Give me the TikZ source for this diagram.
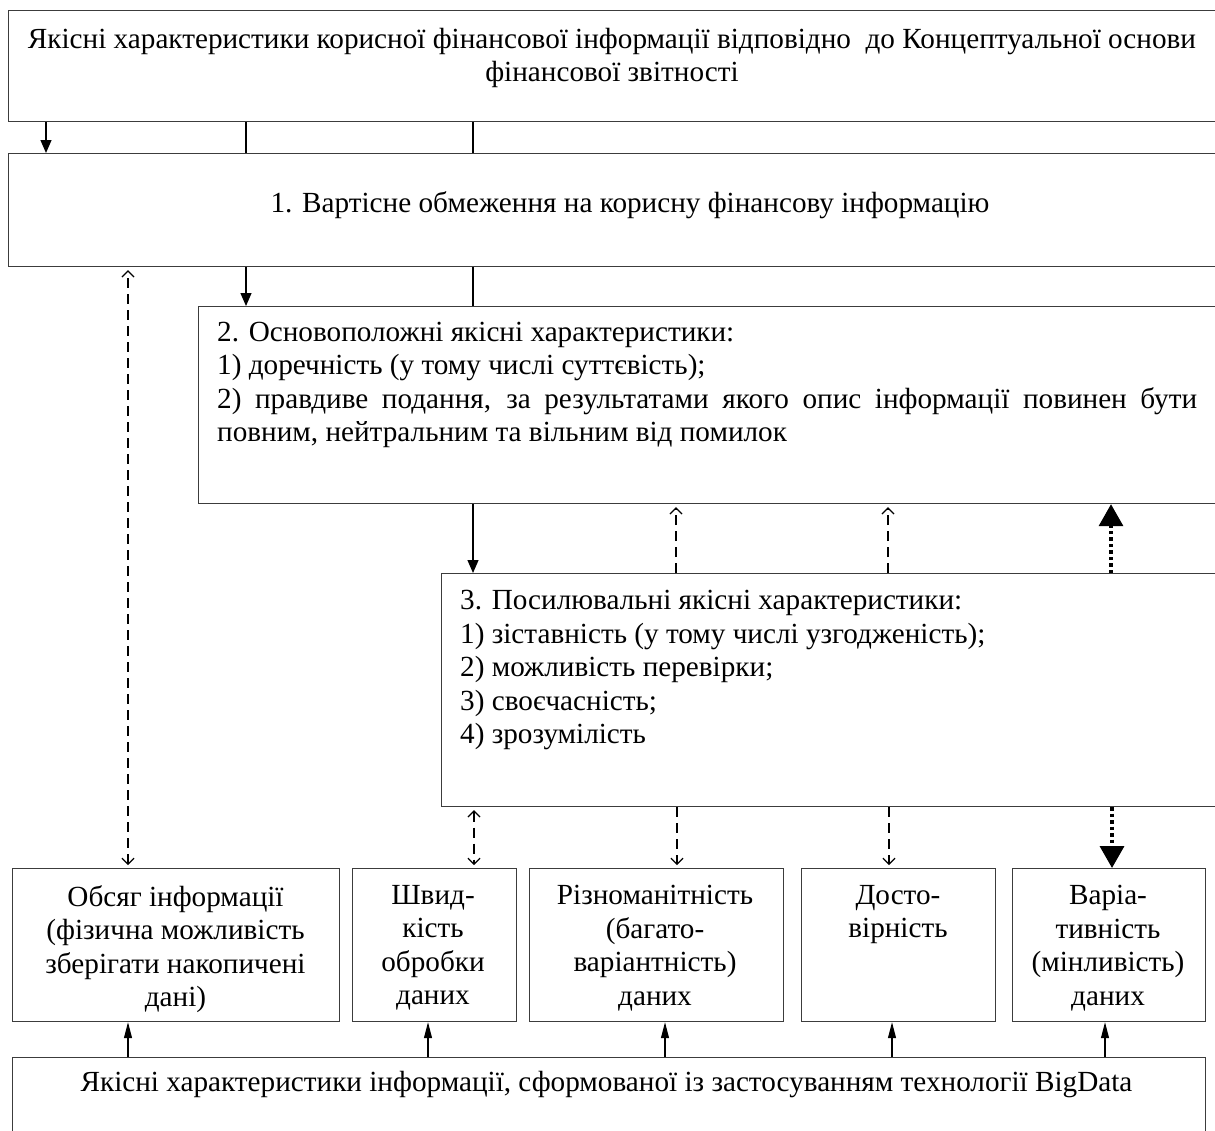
\documentclass[tikz,border=0pt]{standalone}
\usepackage{fontspec}
\setmainfont{Liberation Serif}
\usetikzlibrary{arrows.meta}
\definecolor{boxc}{HTML}{3C3C3C}
\begin{document}
\begin{tikzpicture}[x=1pt,y=-1pt,
  box/.style={draw=boxc, line width=1.2pt, rectangle, inner sep=0pt, anchor=north west},
  txt/.style={inner sep=0pt, font=\fontsize{29.2}{33.5}\selectfont, execute at begin node={\rule{0pt}{28pt}}},
  solidarr/.style={draw=black, line width=1.2pt, -{Triangle[width=11pt,length=13pt]}},
  plainline/.style={draw=black, line width=1.2pt},
  dasharr/.style={draw=black, line width=1.2pt, dash pattern=on 10pt off 6pt, -{Straight Barb[length=6pt,width=12pt,line width=1.2pt]}, shorten >=3pt},
  dashboth/.style={draw=black, line width=1.2pt, dash pattern=on 10pt off 6pt, {Straight Barb[length=6pt,width=12pt,line width=1.2pt]}-{Straight Barb[length=6pt,width=12pt,line width=1.2pt]}, shorten >=3pt, shorten <=3pt},
  dotarr/.style={draw=black, line width=3.5pt, dash pattern=on 3.5pt off 3pt, -{Triangle[width=24pt,length=22pt]}},
  uparr/.style={draw=black, line width=1.1pt, -{Triangle[width=8pt,length=16pt]}}
]
\useasboundingbox (0,0) rectangle (1215,1130);
\clip (0,0) rectangle (1215,1130);

% boxes
\node[box, minimum width=1217pt, minimum height=111pt] (b0) at (8,10) {};
\node[box, minimum width=1217pt, minimum height=113pt] (b1) at (8,153) {};
\node[box, minimum width=1027pt, minimum height=197pt] (b2) at (198,306) {};
\node[box, minimum width=784pt, minimum height=233pt] (b3) at (441,573) {};
\node[box, minimum width=327pt, minimum height=153pt] (o1) at (12,868) {};
\node[box, minimum width=164pt, minimum height=153pt] (o2) at (352,868) {};
\node[box, minimum width=254pt, minimum height=153pt] (o3) at (529,868) {};
\node[box, minimum width=194pt, minimum height=153pt] (o4) at (801,868) {};
\node[box, minimum width=193pt, minimum height=153pt] (o5) at (1012,868) {};
\node[box, minimum width=1193pt, minimum height=100pt] (bb) at (12,1057) {};

% texts
\node[txt, anchor=north, align=center] (t0) at (612,28) {Якісні характеристики корисної фінансової інформації відповідно\ \ до Концептуальної основи\\фінансової звітності};
\node[txt, anchor=base] (t1) at (630,212) {1. Вартісне обмеження на корисну фінансову інформацію};
\node[txt, anchor=north west, text width=980pt, align=justify] (t2) at (217,313) {2. Основоположні якісні характеристики:\\1) доречність (у тому числі суттєвість);\\2) правдиве подання, за результатами якого опис інформації повинен бути\linebreak повним, нейтральним та вільним від помилок};
\node[txt, anchor=north west, align=left] (t3) at (460,590) {3. Посилювальні якісні характеристики:\\1) зіставність (у тому числі узгодженість);\\2) можливість перевірки;\\3) своєчасність;\\4) зрозумілість};
\node[txt, anchor=north, align=center] (to1) at (175.5,885) {Обсяг інформації\\(фізична можливість\\зберігати накопичені\\дані)};
\node[txt, anchor=north, align=center] (to2) at (433,885) {Швид-\\кість\\обробки\\даних};
\node[txt, anchor=north, align=center] (to3) at (655,885) {Різноманітність\\(багато-\\варіантність)\\даних};
\node[txt, anchor=north, align=center] (to4) at (898,885) {Досто-\\вірність};
\node[txt, anchor=north, align=center] (to5) at (1108,885) {Варіа-\\тивність\\(мінливість)\\даних};
\node[txt, anchor=base] (tb) at (606.5,1091) {Якісні характеристики інформації, сформованої із застосуванням технології BigData};

% connectors b0 -> b1
\draw[solidarr] ([xshift=38pt]b0.south west) -- ([xshift=38pt]b1.north west);
\draw[plainline] ([xshift=238pt]b0.south west) -- ([xshift=238pt]b1.north west);
\draw[plainline] ([xshift=465pt]b0.south west) -- ([xshift=465pt]b1.north west);
% b1 -> b2
\draw[solidarr] ([xshift=238pt]b1.south west) -- ([xshift=48pt]b2.north west);
\draw[plainline] ([xshift=465pt]b1.south west) -- ([xshift=275pt]b2.north west);
% b2 -> b3
\draw[solidarr] ([xshift=275pt]b2.south west) -- ([xshift=32pt]b3.north west);
% b3 -> b2 upward
\draw[dasharr] ([xshift=235pt]b3.north west) -- ([xshift=478pt]b2.south west);
\draw[dasharr] ([xshift=447pt]b3.north west) -- ([xshift=690pt]b2.south west);
\draw[dotarr] ([xshift=670pt]b3.north west) -- ([xshift=913pt]b2.south west);
% o1 <-> b1
\draw[dashboth] ([xshift=116pt]o1.north west) -- ([xshift=120pt]b1.south west);
% b3 -> bottom boxes
\draw[dashboth] ([xshift=33pt]b3.south west) -- ([xshift=122pt]o2.north west);
\draw[dasharr] ([xshift=236pt]b3.south west) -- ([xshift=148pt]o3.north west);
\draw[dasharr] ([xshift=448pt]b3.south west) -- ([xshift=88pt]o4.north west);
\draw[dotarr] ([xshift=671pt]b3.south west) -- ([xshift=100pt]o5.north west);
% bb -> bottom boxes
\draw[uparr] ([xshift=116pt]bb.north west) -- ([xshift=116pt]o1.south west);
\draw[uparr] ([xshift=416pt]bb.north west) -- ([xshift=76pt]o2.south west);
\draw[uparr] ([xshift=653pt]bb.north west) -- ([xshift=136pt]o3.south west);
\draw[uparr] ([xshift=880pt]bb.north west) -- ([xshift=91pt]o4.south west);
\draw[uparr] ([xshift=1093pt]bb.north west) -- ([xshift=93pt]o5.south west);
\end{tikzpicture}
\end{document}
